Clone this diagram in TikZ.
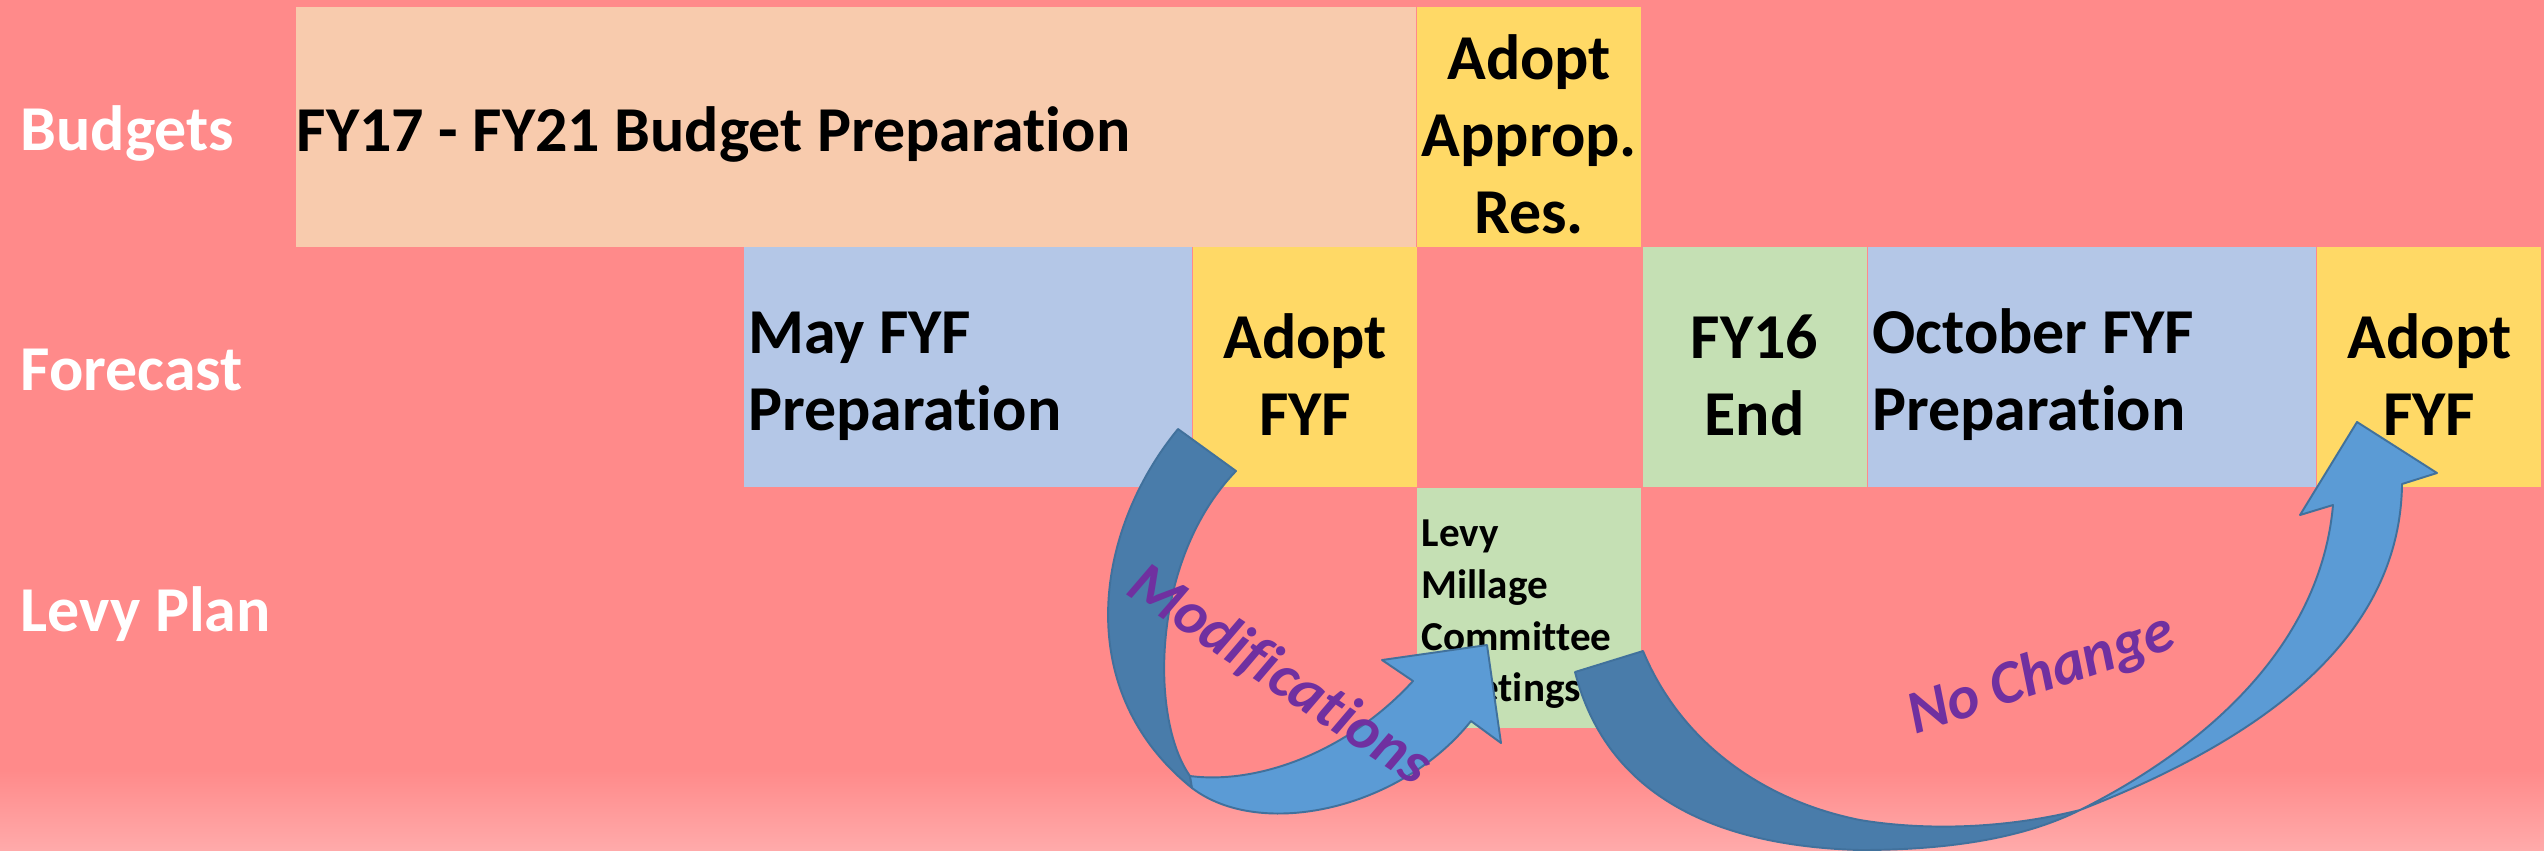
\documentclass[tikz,border=0pt]{standalone}
\usepackage{fontspec}
\setmainfont{Carlito}[Ligatures=NoCommon]
\usetikzlibrary{positioning}
\definecolor{bgpink}{HTML}{FF8A8A}
\definecolor{bglight}{HTML}{FFAAAA}
\definecolor{peach}{HTML}{F8CBAD}
\definecolor{gold}{HTML}{FFD966}
\definecolor{sky}{HTML}{B4C7E7}
\definecolor{sage}{HTML}{C5E0B4}
\definecolor{arrowfront}{HTML}{5B9BD5}
\definecolor{arrowback}{HTML}{497CAA}
\definecolor{arrowline}{HTML}{41719C}
\definecolor{plum}{HTML}{7030A0}
\tikzset{
  cell/.style={
    rectangle, fill=#1, anchor=north west, inner sep=0pt,
    minimum height=24mm,
    font=\bfseries\fontsize{18.2}{21.9}\selectfont,
    execute at begin node={\rule{0pt}{0.95em}}
  },
  midcell/.style={cell=#1, inner xsep=0.45mm, text width=21.5mm, align=center},
  leftcell/.style={cell=#1, inner xsep=0.45mm, align=flush left},
  rowlabel/.style={
    anchor=base west, inner sep=0pt, text=white,
    font=\bfseries\fontsize{18.2}{21.9}\selectfont
  },
  frontface/.style={fill=arrowfront, draw=arrowline, line width=0.55pt, line join=round},
  backface/.style={fill=arrowback, draw=arrowline, line width=0.55pt, line join=round},
  wordart/.style={
    anchor=base, inner sep=0pt, text=plum,
    font=\bfseries\itshape\fontsize{17.4}{20}\selectfont
  },
}

\begin{document}
\begin{tikzpicture}[x=0.1mm, y=-0.1mm]
\useasboundingbox (0,0) rectangle (2544,850);
% background
\fill[bgpink] (0,0) rectangle (2544,850);
\shade[top color=bgpink, bottom color=bglight] (0,770) rectangle (2544,850);

% row labels
\node[rowlabel] (lblbudget) at (20,150) {Budgets};
\node[rowlabel] (lblforecast) at (20,390) {Forecast};
\node[rowlabel] (lbllevy) at (20,631) {Levy Plan};

% budgets row
\node[leftcell=peach, inner xsep=0.1mm, text width=111.8mm] (budprep) at (295,6) {FY17 - FY21 Budget Preparation};
\node[midcell=gold, right=0pt of budprep] (adoptres) {Adopt\\Approp.\\Res.};

% forecast row
\node[leftcell=sky, text width=43.9mm] (mayprep) at (743,246) {May FYF\\Preparation};
\node[midcell=gold, right=0pt of mayprep] (adoptmay) {Adopt\\FYF};
\node[midcell=sage, right=22.4mm of adoptmay] (fyend) {FY16\\End};
\node[leftcell=sky, text width=43.9mm, right=0pt of fyend] (octprep) {October FYF\\Preparation};
\node[midcell=gold, right=0pt of octprep] (adoptoct) {Adopt\\FYF};

% levy plan row
\node[leftcell=sage, text width=21.5mm, below=24mm of adoptres,
      font=\bfseries\fontsize{11.7}{14.7}\selectfont] (levycom) {Levy\\Millage\\Committee\\Meetings};

% curved arrow back into the levy committee
\filldraw[backface] (1178,429) .. controls (1095,530) and (1070,690) .. (1192,788)
  -- (1190,776) .. controls (1150,720) and (1150,560) .. (1236,471) -- cycle;
\filldraw[frontface] (1190,776) .. controls (1260,785) and (1350,750) .. (1413,681)
  -- (1382,660) -- (1487,645) -- (1501,743) -- (1471,721)
  .. controls (1400,810) and (1260,840) .. (1192,788) -- cycle;

% curved arrow on to the october adoption
\filldraw[backface] (1575,672) .. controls (1600,770) and (1680,845) .. (1860,850)
  .. controls (1960,850) and (2030,835) .. (2080,810)
  .. controls (2000,830) and (1920,830) .. (1860,820)
  .. controls (1760,800) and (1680,740) .. (1643,651) -- cycle;
\filldraw[frontface] (2080,810) .. controls (2200,750) and (2320,650) .. (2333,505)
  -- (2300,515) -- (2357,422) -- (2437,473) -- (2402,484)
  .. controls (2400,640) and (2260,740) .. (2080,810) -- cycle;

% arrow captions
\node[wordart, rotate=-33.6] (modlabel) at (1270,690) {Modifications};
\node[wordart, rotate=18.4] (samelabel) at (2047,691) {No Change};
\end{tikzpicture}
\end{document}
